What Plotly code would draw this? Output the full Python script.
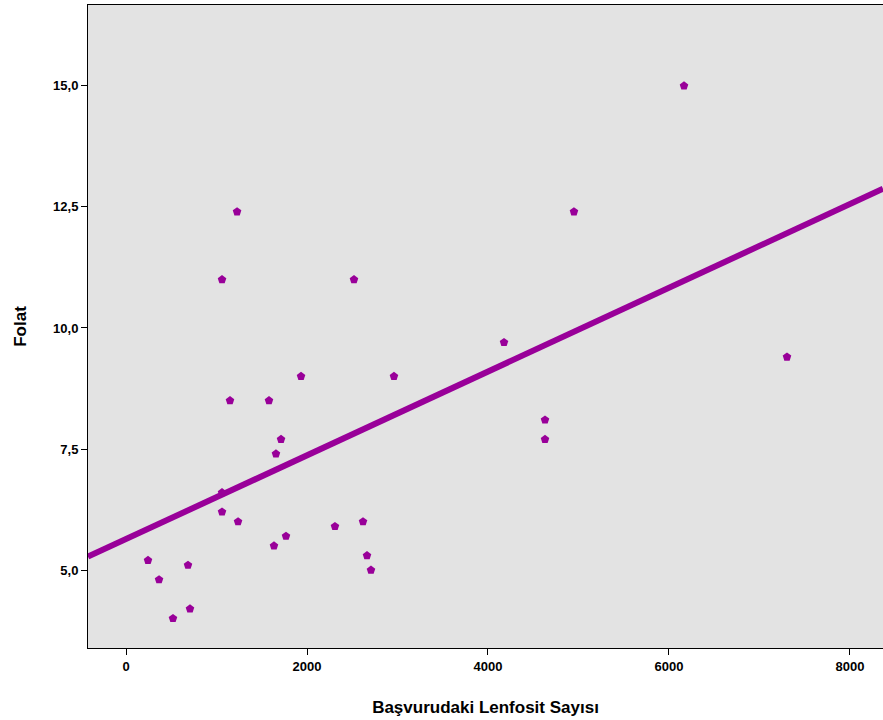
import plotly.graph_objects as go

lymph = [243, 365, 519, 685, 707, 1061, 1061, 1061, 1149, 1227, 1238, 1580, 1635, 1657, 1713,
         1768, 1934, 2309, 2519, 2619, 2663, 2707, 2961, 4177, 4630, 4630, 4950, 6166, 7304]
folat = [5.2, 4.8, 4.0, 5.1, 4.2, 11.0, 6.6, 6.2, 8.5, 12.4, 6.0, 8.5, 5.5, 7.4, 7.7,
         5.7, 9.0, 5.9, 11.0, 6.0, 5.3, 5.0, 9.0, 9.7, 8.1, 7.7, 12.4, 15.0, 9.4]
fit_x = [-420, 8365]
fit_intercept = 5.64
fit_slope = 0.000865
fit_y = [fit_intercept + fit_slope * x for x in fit_x]

x_ticks = [0, 2000, 4000, 6000, 8000]
y_ticks = [5.0, 7.5, 10.0, 12.5, 15.0]
y_labels = ["5,0", "7,5", "10,0", "12,5", "15,0"]

purple = "#990099"
fig = go.Figure()
fig.add_trace(go.Scatter(x=fit_x, y=fit_y, mode="lines",
                         line=dict(color=purple, width=6), hoverinfo="skip"))
fig.add_trace(go.Scatter(x=lymph, y=folat, mode="markers",
                         marker=dict(color=purple, size=9, symbol="pentagon")))

font = dict(family="Liberation Sans, Arial, sans-serif", color="#000000")
fig.update_layout(
    width=883, height=720,
    margin=dict(l=88, r=0, t=5, b=72),
    paper_bgcolor="white", plot_bgcolor="#E3E3E3",
    showlegend=False,
    font=font,
)
fig.update_xaxes(range=[-420, 8365], tickvals=x_ticks, ticktext=[str(v) for v in x_ticks],
                 showgrid=False, zeroline=False, showline=True, linecolor="black", linewidth=1,
                 mirror=True, ticks="outside", ticklen=6, tickcolor="black",
                 tickfont=dict(size=13, family="Liberation Sans Narrow, Liberation Sans, Arial", color="black", weight="bold"),
                 title=dict(text="<b>Başvurudaki Lenfosit Sayısı</b>", font=dict(size=17), standoff=28))
fig.update_yaxes(range=[3.39, 16.67], tickvals=y_ticks, ticktext=y_labels,
                 showgrid=False, zeroline=False, showline=True, linecolor="black", linewidth=1,
                 mirror=True, ticks="outside", ticklen=6, tickcolor="black",
                 tickfont=dict(size=13, color="black", weight="bold"),
                 title=dict(text="<b>Folat</b>", font=dict(size=17), standoff=22))
fig.write_html("out.html", config={"displayModeBar": False},
               post_script="document.body.style.margin='0';document.body.style.padding='0';")
